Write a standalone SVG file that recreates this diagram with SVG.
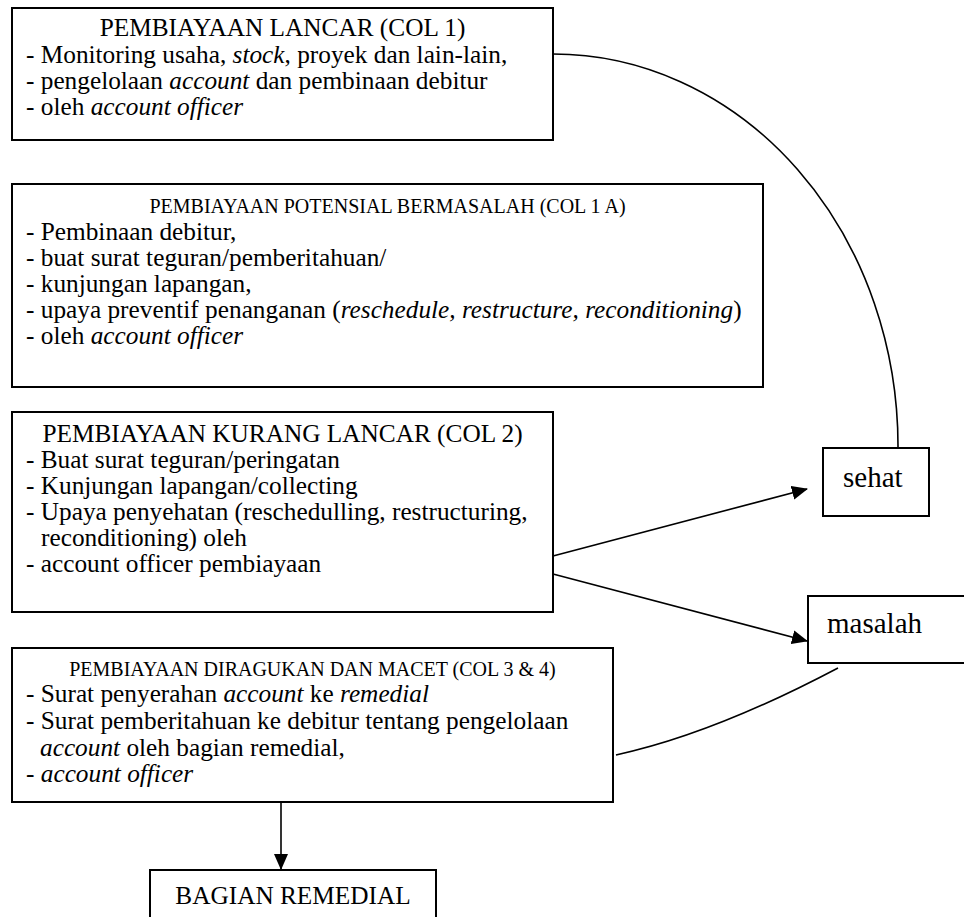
<svg xmlns="http://www.w3.org/2000/svg" width="964" height="917" viewBox="0 0 964 917">
<style>
.box{fill:#fff;stroke:#000;stroke-width:2}
.t{font-family:"Liberation Serif","Times New Roman",serif;font-size:25.3px;fill:#000}
.s{font-family:"Liberation Serif","Times New Roman",serif;font-size:20px;fill:#000}
.b{font-family:"Liberation Serif","Times New Roman",serif;font-size:29px;fill:#000}
.i{font-style:italic}
.c{fill:none;stroke:#000;stroke-width:1.6}
</style>
<defs>
<marker id="ah" markerUnits="userSpaceOnUse" markerWidth="16" markerHeight="14" refX="15" refY="7" orient="auto">
<path d="M0,0 L16,7 L0,14 Z" fill="#000"/>
</marker>
</defs>
<rect width="964" height="917" fill="#fff"/>
<g id="connectors">
<path class="c" d="M553,54 A345,392 0 0 1 898,448"/>
<line class="c" x1="553" y1="556" x2="807" y2="489" marker-end="url(#ah)"/>
<line class="c" x1="553" y1="574" x2="807" y2="641" marker-end="url(#ah)"/>
<path class="c" d="M838,668 Q713,734 616,755"/>
<line class="c" x1="281" y1="802" x2="281" y2="869" marker-end="url(#ah)"/>
</g>
<g id="col1">
<rect class="box" x="12" y="8" width="541" height="132"/>
<text class="t" x="282.5" y="36" text-anchor="middle">PEMBIAYAAN LANCAR (COL 1)</text>
<text class="t" x="26" y="63">- Monitoring usaha, <tspan class="i">stock</tspan>, proyek dan lain-lain,</text>
<text class="t" x="26" y="89">- pengelolaan <tspan class="i">account</tspan> dan pembinaan debitur</text>
<text class="t" x="26" y="115">- oleh <tspan class="i">account officer</tspan></text>
</g>
<g id="col1a">
<rect class="box" x="12" y="184" width="751" height="203"/>
<text class="s" x="387.5" y="213" text-anchor="middle">PEMBIAYAAN POTENSIAL BERMASALAH (COL 1 A)</text>
<text class="t" x="26" y="240">- Pembinaan debitur,</text>
<text class="t" x="26" y="266">- buat surat teguran/pemberitahuan/</text>
<text class="t" x="26" y="292">- kunjungan lapangan,</text>
<text class="t" x="26" y="318">- upaya preventif penanganan (<tspan class="i">reschedule, restructure, reconditioning</tspan>)</text>
<text class="t" x="26" y="344">- oleh <tspan class="i">account officer</tspan></text>
</g>
<g id="col2">
<rect class="box" x="12" y="412" width="541" height="200"/>
<text class="t" x="282.5" y="442" text-anchor="middle">PEMBIAYAAN KURANG LANCAR (COL 2)</text>
<text class="t" x="26" y="468">- Buat surat teguran/peringatan</text>
<text class="t" x="26" y="494">- Kunjungan lapangan/collecting</text>
<text class="t" x="26" y="520">- Upaya penyehatan (reschedulling, restructuring,</text>
<text class="t" x="41" y="546">reconditioning) oleh</text>
<text class="t" x="26" y="572">- account officer pembiayaan</text>
</g>
<g id="col34">
<rect class="box" x="12" y="648" width="601" height="154"/>
<text class="s" x="312.5" y="676" text-anchor="middle">PEMBIAYAAN DIRAGUKAN DAN MACET (COL 3 &amp; 4)</text>
<text class="t" x="26" y="702">- Surat penyerahan <tspan class="i">account</tspan> ke <tspan class="i">remedial</tspan></text>
<text class="t" x="26" y="729">- Surat pemberitahuan ke debitur tentang pengelolaan</text>
<text class="t" x="40" y="756"><tspan class="i">account</tspan> oleh bagian remedial,</text>
<text class="t" x="26" y="782">- <tspan class="i">account officer</tspan></text>
</g>
<g id="sehat">
<rect class="box" x="823" y="448" width="106" height="68"/>
<text class="b" x="843" y="487">sehat</text>
</g>
<g id="masalah">
<rect class="box" x="808" y="596" width="170" height="67"/>
<text class="b" x="827" y="633">masalah</text>
</g>
<g id="remedial">
<rect class="box" x="150" y="870" width="286" height="60"/>
<text class="t" x="293" y="904" text-anchor="middle">BAGIAN REMEDIAL</text>
</g>
</svg>
